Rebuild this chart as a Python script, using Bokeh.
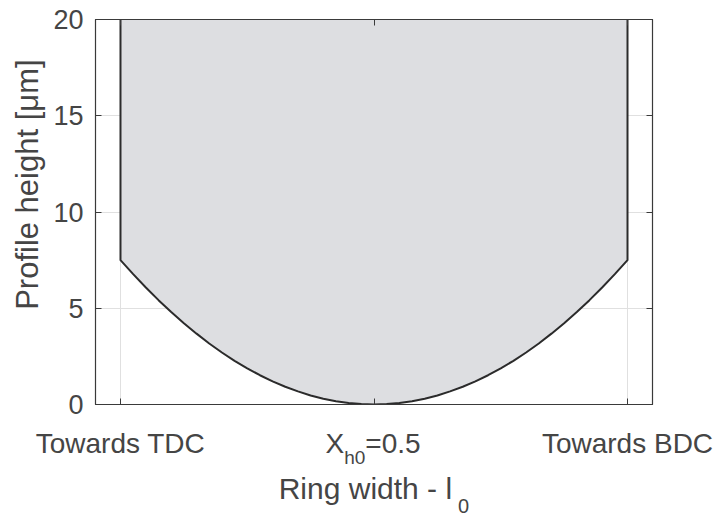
from bokeh.plotting import figure
from bokeh.layouts import column, row
from bokeh.models import Range1d, LinearAxis, FixedTicker
from bokeh.core.properties import value
from bokeh.embed import file_html
from bokeh.resources import INLINE
import math

# Ring profile: position across ring width (0 = towards TDC, 1 = towards BDC)
ring_pos = [0.000, 0.025, 0.050, 0.075, 0.100, 0.125, 0.150, 0.175, 0.200, 0.225,
            0.250, 0.275, 0.300, 0.325, 0.350, 0.375, 0.400, 0.425, 0.450, 0.475,
            0.500, 0.525, 0.550, 0.575, 0.600, 0.625, 0.650, 0.675, 0.700, 0.725,
            0.750, 0.775, 0.800, 0.825, 0.850, 0.875, 0.900, 0.925, 0.950, 0.975, 1.000]
profile_height = [7.50, 6.77, 6.08, 5.42, 4.80, 4.22, 3.68, 3.17, 2.70, 2.27,
                  1.88, 1.52, 1.20, 0.92, 0.68, 0.47, 0.30, 0.17, 0.08, 0.02,
                  0.00, 0.02, 0.08, 0.17, 0.30, 0.47, 0.68, 0.92, 1.20, 1.52,
                  1.88, 2.27, 2.70, 3.17, 3.68, 4.22, 4.80, 5.42, 6.08, 6.77, 7.50]
top_height = 20

x_ticks = [0, 0.5, 1]
y_ticks = [0, 5, 10, 15, 20]
y_tick_labels = ["0", "5", "10", "15", "20"]
x_side_labels = ["Towards TDC", "Towards BDC"]

FONT = value("Liberation Sans")
TEXT = "#454545"
EDGE = "#3a3a3a"

# page geometry (pixels)
W, H = 724, 519
LABEL_STRIP = 50          # strip left of the plot holding the y title
FRAME_L, FRAME_R = 95, 652
FRAME_T, FRAME_B = 19, 404
AXIS_PAD = 18             # room below the frame for the bottom axis and the "0" label
X0, X1 = -0.0493, 1.0493  # x range of the plot frame

# ---------------- main plot ----------------
p = figure(width=W - LABEL_STRIP, height=FRAME_B + AXIS_PAD,
           output_backend="svg", toolbar_location=None,
           x_range=Range1d(X0, X1), y_range=Range1d(0, top_height),
           min_border_left=FRAME_L - LABEL_STRIP, min_border_right=W - FRAME_R,
           min_border_top=FRAME_T, min_border_bottom=AXIS_PAD,
           x_axis_location=None, y_axis_location=None)
p.background_fill_color = "white"
p.border_fill_color = "white"
p.outline_line_color = EDGE
p.outline_line_width = 1.2

p.xgrid.ticker = FixedTicker(ticks=x_ticks)
p.ygrid.ticker = FixedTicker(ticks=y_ticks)
for g in (p.xgrid, p.ygrid):
    g.grid_line_color = "#e0e0e0"
    g.grid_line_width = 1


def make_axis(ticks, labels=None):
    ax = LinearAxis(ticker=FixedTicker(ticks=ticks))
    ax.major_tick_in = 6
    ax.major_tick_out = 0
    ax.minor_tick_line_color = None
    ax.axis_line_color = EDGE
    ax.major_tick_line_color = EDGE
    ax.major_label_text_font = "Liberation Sans"
    ax.major_label_text_color = TEXT
    if labels is None:
        ax.major_label_overrides = {t: "" for t in ticks}
        ax.major_label_standoff = 0
        ax.major_label_text_font_size = "2px"
    else:
        ax.major_label_overrides = {t: l for t, l in zip(ticks, labels)}
        ax.major_label_standoff = 12
        ax.major_label_text_font_size = "27px"
    return ax


p.add_layout(make_axis(y_ticks, y_tick_labels), "left")
p.add_layout(make_axis(y_ticks), "right")
p.add_layout(make_axis(x_ticks), "below")
p.add_layout(make_axis(x_ticks), "above")

# filled profile region between the curve and the top of the plot
xs = [ring_pos[0]] + ring_pos + [ring_pos[-1]]
ys = [top_height] + profile_height + [top_height]
p.patch(xs, ys, fill_color="#dddee1", line_color=None)
p.line(xs, ys, line_color="#2b2b2b", line_width=2)

# ---------------- y title strip ----------------
ylab = figure(width=LABEL_STRIP, height=FRAME_B + AXIS_PAD, output_backend="svg",
              toolbar_location=None, x_range=Range1d(0, LABEL_STRIP),
              y_range=Range1d(FRAME_B + AXIS_PAD, 0), min_border=0,
              x_axis_location=None, y_axis_location=None)
ylab.outline_line_color = None
ylab.grid.visible = False
ylab.text(x=[27], y=[181], text=["Profile height [\u03bcm]"], angle=math.pi / 2,
          text_font=FONT, text_font_size="31px", text_color=TEXT,
          text_align="center", text_baseline="middle")

# ---------------- x labels strip ----------------
px_per_unit = (FRAME_R - FRAME_L) / (X1 - X0)
bx0 = X0 - FRAME_L / px_per_unit
bx1 = X1 + (W - FRAME_R) / px_per_unit
top_px = FRAME_B + AXIS_PAD
xlab = figure(width=W, height=H - top_px, output_backend="svg", toolbar_location=None,
              x_range=Range1d(bx0, bx1), y_range=Range1d(H, top_px), min_border=0,
              x_axis_location=None, y_axis_location=None)
xlab.outline_line_color = None
xlab.grid.visible = False

# tick labels at the ring edges
xlab.text(x=[x_ticks[0], x_ticks[2]], y=[443, 443], text=x_side_labels,
          text_font=FONT, text_font_size="28px", text_color=TEXT,
          text_align="center", text_baseline="alphabetic")
# centre tick label: X_h0=0.5
xlab.text(x=[x_ticks[1]], y=[443], x_offset=-48.5, text=["X"], text_font=FONT,
          text_font_size="28px", text_color=TEXT, text_align="left",
          text_baseline="alphabetic")
xlab.text(x=[x_ticks[1]], y=[457], x_offset=-29.8, text=["h0"], text_font=FONT,
          text_font_size="19px", text_color=TEXT, text_align="left",
          text_baseline="alphabetic")
xlab.text(x=[x_ticks[1]], y=[443], x_offset=-8.7, text=["=0.5"], text_font=FONT,
          text_font_size="28px", text_color=TEXT, text_align="left",
          text_baseline="alphabetic")
# axis title: Ring width - l_0
xlab.text(x=[x_ticks[1]], y=[488], x_offset=-95.3, text=["Ring width - l"],
          text_font=FONT, text_font_size="30px", text_color=TEXT,
          text_align="left", text_baseline="alphabetic")
xlab.text(x=[x_ticks[1]], y=[505], x_offset=84.1, text=["0"], text_font=FONT,
          text_font_size="20px", text_color=TEXT, text_align="left",
          text_baseline="alphabetic")

layout = column(row(ylab, p, spacing=0), xlab, spacing=0)
open("out.html", "w").write(file_html(layout, INLINE))
